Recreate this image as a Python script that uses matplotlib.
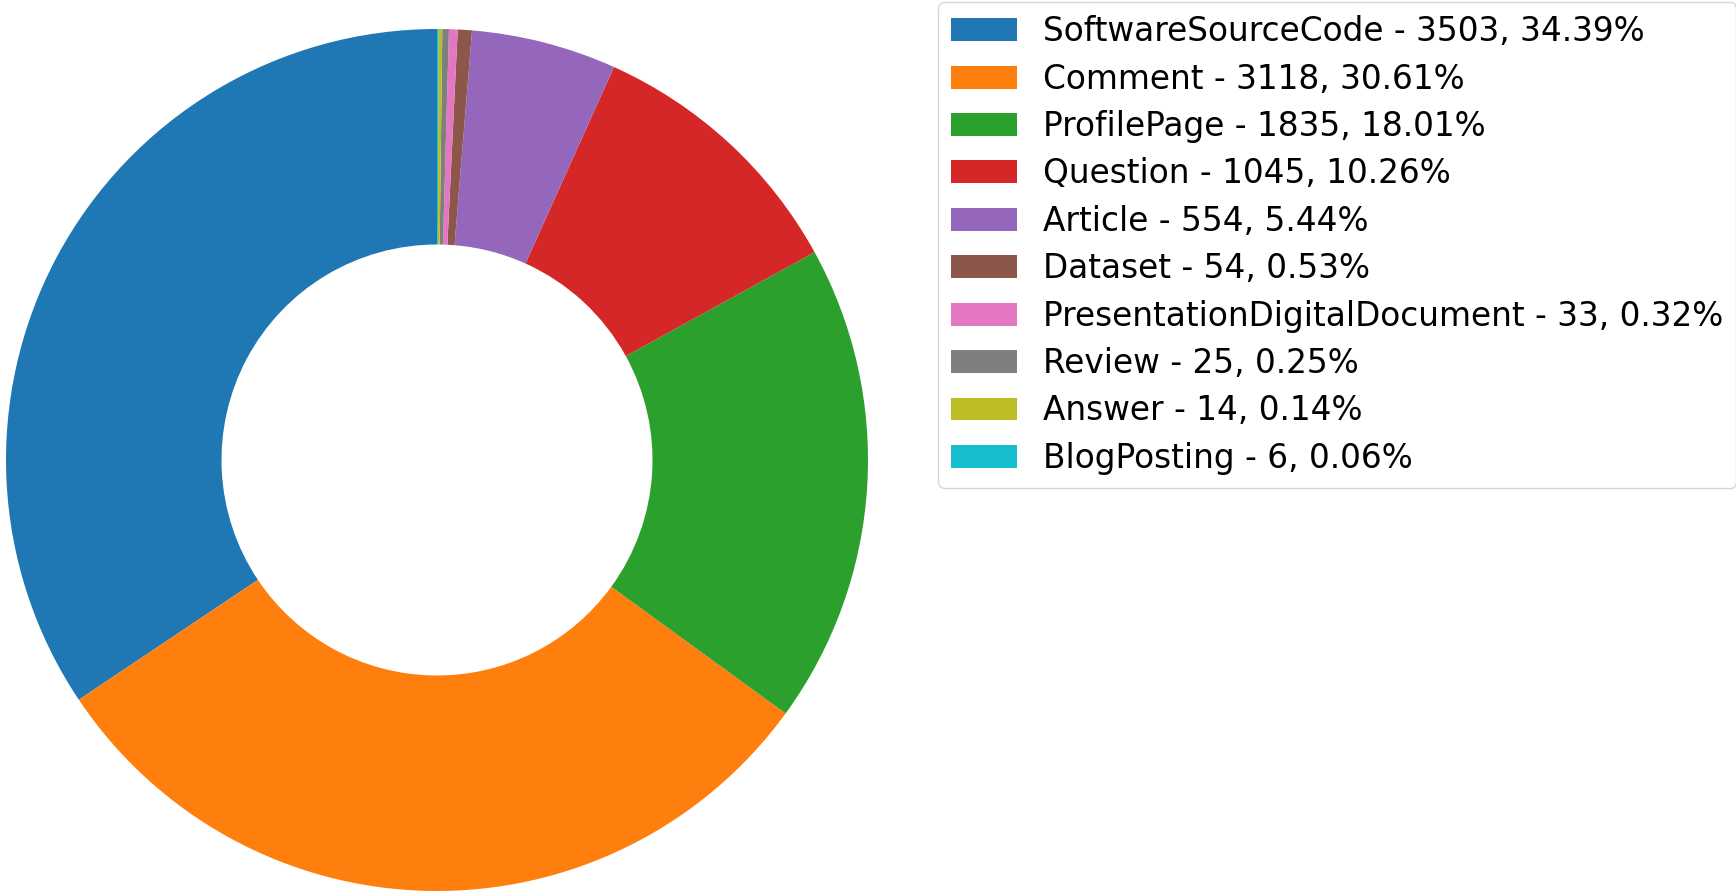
import matplotlib
matplotlib.use("Agg")
import matplotlib.pyplot as plt

names = ["SoftwareSourceCode", "Comment", "ProfilePage", "Question", "Article",
         "Dataset", "PresentationDigitalDocument", "Review", "Answer", "BlogPosting"]
counts = [3503, 3118, 1835, 1045, 554, 54, 33, 25, 14, 6]

total = sum(counts)
labels = [f"{n} - {c}, {c / total * 100:.2f}%" for n, c in zip(names, counts)]

fig = plt.figure(figsize=(17.36, 8.94), dpi=100)
ax = fig.add_axes([6 / 1736, 3 / 894, 862 / 1736, 862 / 894])

wedges, _ = ax.pie(counts, startangle=90, counterclock=True,
                   wedgeprops=dict(width=0.5))
ax.set_xlim(-1, 1)
ax.set_ylim(-1, 1)
ax.set_aspect("equal")

fig.legend(wedges, labels, loc="upper left",
           bbox_to_anchor=(938 / 1736, 892 / 894),
           borderaxespad=0, fontsize=23.6, labelspacing=0.44)

fig.savefig("out.png", dpi=100)
